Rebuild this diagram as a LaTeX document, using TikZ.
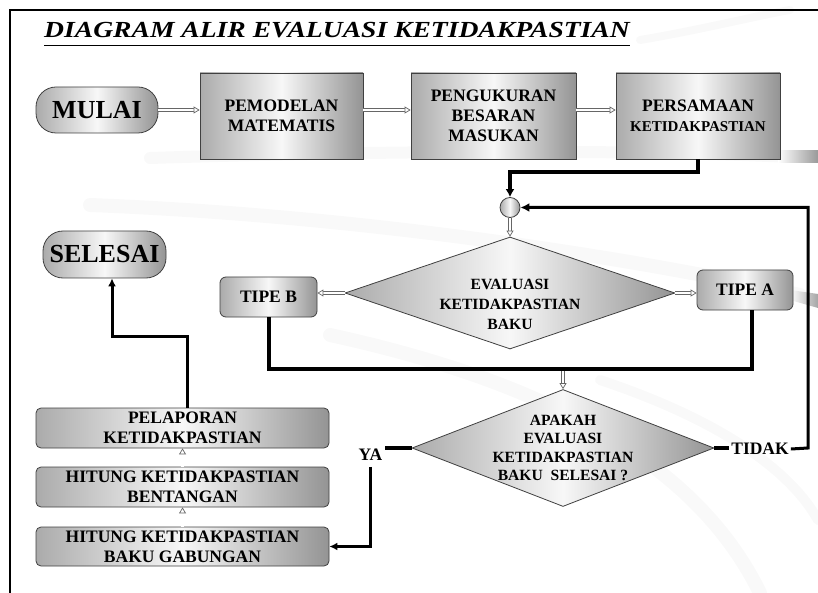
\documentclass[tikz,border=0pt]{standalone}
\usepackage{fontspec}
\setmainfont{Liberation Serif}
\usetikzlibrary{arrows.meta,shapes.geometric,calc}

\tikzset{
  base/.style={font=\bfseries\fontsize{17.5}{20}\selectfont, align=center,
    inner sep=0pt, draw=black!75, line width=0.8pt,
    left color=black!33, right color=black!42, middle color=black!3},
  procbox/.style={base, rectangle},
  termbox/.style={base, rounded corners=20pt, font=\bfseries\fontsize{26}{28}\selectfont},
  roundbox/.style={base, rounded corners=5pt},
  decision/.style={base, diamond, aspect=3},
  dtext/.style={font=\bfseries\fontsize{15.6}{20}\selectfont, align=center, inner sep=0pt},
  lbl/.style={font=\bfseries\fontsize{17.5}{20}\selectfont, inner sep=2pt},
  hollow/.style={draw=black!60, line width=0.7pt, double=white, double distance=2.4pt,
    -{Triangle[open, fill=white, length=6pt, width=7pt, line width=0.7pt]}},
  heavy/.style={draw=black, line width=4pt},
  medium/.style={draw=black, line width=3pt},
  faint/.style={draw=black!2.5, line cap=round}
}

\begin{document}
\begin{tikzpicture}[x=1pt, y=-1pt]
\useasboundingbox (0,0) rectangle (818,593);

% soft background swooshes
\draw[faint, line width=12pt] (150,158) .. controls (400,150) and (650,150) .. (790,157);
\shade[left color=white, right color=black!40] (778,151) rectangle (818,163);
\draw[faint, line width=14pt] (90,205) .. controls (350,215) and (620,255) .. (800,295);
\shade[left color=white, right color=black!35] (790,290) -- (818,294) -- (818,308) -- (790,300) -- cycle;
\draw[faint, line width=14pt] (330,335) .. controls (560,385) and (700,470) .. (760,593);
\draw[faint, line width=10pt] (600,380) .. controls (720,420) and (790,470) .. (818,520);
\draw[faint, line width=8pt] (640,40) .. controls (700,30) and (760,15) .. (790,10);

% page frame
\draw[line width=2pt] (818,10) -- (10,10) -- (10,593);

% title
\node[anchor=base west, inner sep=0pt, font=\bfseries\itshape\fontsize{23}{26}\selectfont]
  (title) at (44,38) {\scalebox{1.2}[1]{DIAGRAM ALIR EVALUASI KETIDAKPASTIAN}};
\draw[line width=1.3pt] ([yshift=-7.5pt]title.base west) -- ([yshift=-7.5pt]title.base east);

% top row
\node[termbox, minimum width=122pt, minimum height=46pt] (mulai) at (97,110) {MULAI};
\node[procbox, minimum width=163pt, minimum height=86pt] (pemod) at (281.5,116) {PEMODELAN\\MATEMATIS};
\node[procbox, minimum width=165pt, minimum height=86pt] (pengu) at (493.5,116) {PENGUKURAN\\BESARAN\\MASUKAN};
\node[procbox, minimum width=164pt, minimum height=86pt] (persa) at (698,116)
  {PERSAMAAN\\{\fontsize{15}{20}\selectfont KETIDAKPASTIAN}};

% merge point and first decision
\node[base, circle, minimum size=20pt] (junc) at (510,207.5) {};
\node[decision, minimum width=330pt, minimum height=112pt] (eval) at (510,293) {};
\node[dtext] (evaltxt) at ([yshift=-11pt]eval.center) {EVALUASI\\KETIDAKPASTIAN\\BAKU};
\node[roundbox, rounded corners=6pt, minimum width=97pt, minimum height=40pt] (tipeB) at (268.5,297) {TIPE B};
\node[roundbox, rounded corners=6pt, minimum width=96pt, minimum height=40pt] (tipeA) at (745,290) {TIPE A};

% second decision
\node[decision, minimum width=302pt, minimum height=117pt] (ask) at (563,448) {};
\node[dtext, font=\bfseries\fontsize{15.6}{18.5}\selectfont] (asktxt) at (ask.center)
  {APAKAH\\EVALUASI\\KETIDAKPASTIAN\\BAKU\ \ SELESAI ?};
\node[lbl] (ya) at (370.5,455) {YA};
\node[lbl] (tidak) at (760,449) {TIDAK};

% reporting column
\node[termbox, minimum width=123pt, minimum height=47pt] (selesai) at (104.5,254.5) {SELESAI};
\node[roundbox, minimum width=293pt, minimum height=40pt] (lapor) at (182.5,428) {PELAPORAN\\KETIDAKPASTIAN};
\node[roundbox, minimum width=293pt, minimum height=40pt] (bentang) at (182.5,487) {HITUNG KETIDAKPASTIAN\\BENTANGAN};
\node[roundbox, minimum width=293pt, minimum height=39pt] (gabung) at (182.5,546.5) {HITUNG KETIDAKPASTIAN\\BAKU GABUNGAN};

\coordinate (jR) at (752,369);
\coordinate (rc) at (808,448);
\coordinate (bend) at (112,336);

% hollow flow arrows
\draw[hollow] (mulai.east) -- (mulai.east -| pemod.west);
\draw[hollow] ([yshift=6pt]pemod.east) -- ([yshift=6pt]pengu.west);
\draw[hollow] ([yshift=6pt]pengu.east) -- ([yshift=6pt]persa.west);
\draw[hollow] (junc.south) -- (eval.north);
\draw[hollow] (eval.west) -- (eval.west -| tipeB.east);
\draw[hollow] (eval.east) -- (eval.east -| tipeA.west);
\draw[hollow] (ask.north |- jR) -- (ask.north);
\draw[hollow] (gabung.north) -- (bentang.south);
\draw[hollow] (bentang.north) -- (lapor.south);

% heavy connectors
\draw[heavy, -{Latex[length=8pt, width=9pt]}] (persa.south) -- ++(0,13) -| (junc.north);
\draw[heavy] (tipeB.south) |- (jR) -- (jR |- tipeA.south);
\draw[heavy] (ask.west) -- (ask.west -| ya.east);
\draw[heavy] (ask.east) -- (ask.east -| tidak.west);
\draw[medium, -{Latex[length=9pt, width=9pt]}] (tidak.east) -- (rc) |- (junc.east);
\draw[medium, -{Latex[length=8pt, width=8pt]}] ([yshift=-4pt]ya.south) |- (gabung.east);
\draw[medium, -{Latex[length=8pt, width=8pt]}] ([xshift=4.5pt]lapor.north) |- (bend) -- (bend |- selesai.south);
\end{tikzpicture}
\end{document}
